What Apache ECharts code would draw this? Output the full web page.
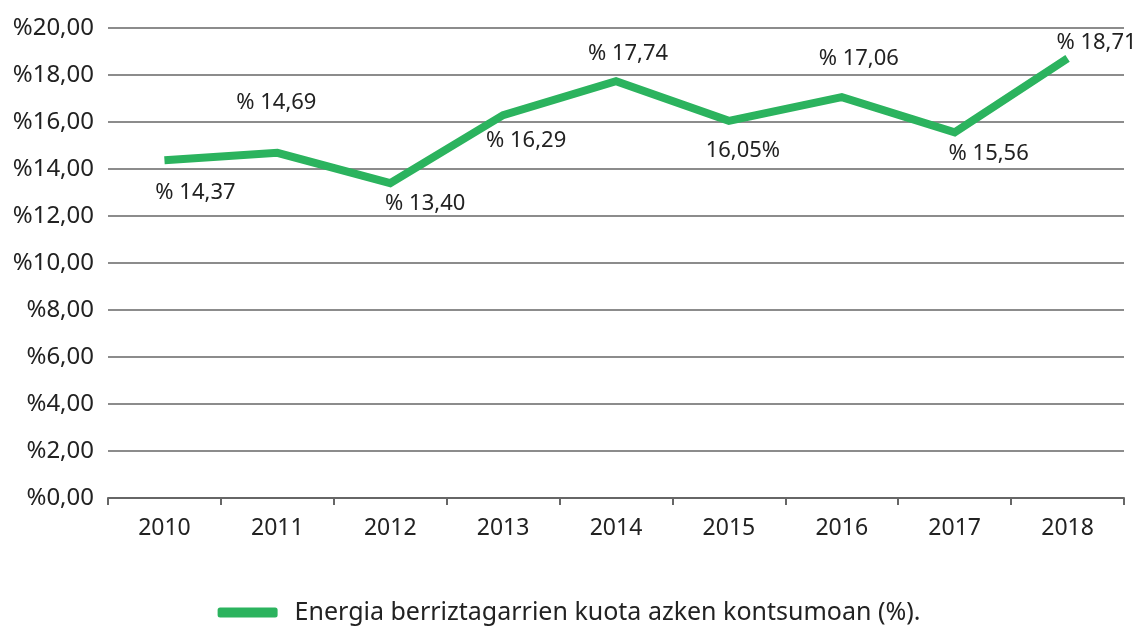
<!DOCTYPE html>
<html>
<head>
<meta charset="utf-8">
<script src="https://cdn.jsdelivr.net/npm/echarts@6/dist/echarts.min.js"></script>
<style>
  html, body { margin: 0; padding: 0; background: #fff; }
  #chart { width: 1138px; height: 628px; }
</style>
</head>
<body>
<div id="chart"></div>
<script>
// data
const years = ['2010', '2011', '2012', '2013', '2014', '2015', '2016', '2017', '2018'];
const shares = [14.37, 14.69, 13.40, 16.29, 17.74, 16.05, 17.06, 15.56, 18.71];
const pointLabels = ['% 14,37', '% 14,69', '% 13,40', '% 16,29', '% 17,74', '16,05%', '% 17,06', '% 15,56', '% 18,71'];
// where each value label sits relative to its point
const labelOffsets = [[31, 32], [-1, -50], [35, 21], [23, 26], [12, -27], [14, 30], [17, -38], [34, 21], [29, -16]];
const seriesName = 'Energia berriztagarrien kuota azken kontsumoan (%).';

const font = 'Noto Sans';
const textColor = '#222';
const green = '#2bb35e';

const chart = echarts.init(document.getElementById('chart'));

const option = {
  animation: false,
  grid: { left: 108, right: 14, top: 28, bottom: 130 },
  xAxis: {
    type: 'category',
    data: years,
    boundaryGap: true,
    axisLine: { lineStyle: { color: '#666', width: 2 } },
    axisTick: { show: true, length: 7, lineStyle: { color: '#666', width: 2 } },
    axisLabel: { color: textColor, fontSize: 23, fontFamily: font, margin: 19 }
  },
  yAxis: {
    type: 'value',
    min: 0,
    max: 20,
    interval: 2,
    axisLine: { show: false },
    axisTick: { show: false },
    splitLine: { lineStyle: { color: '#666', width: 1.5 } },
    axisLabel: {
      color: textColor, fontSize: 24, fontFamily: font, margin: 14,
      formatter: v => '%' + v.toFixed(2).replace('.', ',')
    }
  },
  legend: {
    bottom: -2,
    left: 'center',
    icon: 'roundRect',
    itemWidth: 60,
    itemHeight: 10,
    textStyle: { color: textColor, fontSize: 25, fontFamily: font, padding: [0, 0, 0, 12] },
    data: [seriesName]
  },
  series: [{
    name: seriesName,
    type: 'line',
    data: shares.map((v, i) => ({
      value: v,
      label: {
        show: true,
        position: 'inside',
        offset: labelOffsets[i],
        formatter: pointLabels[i],
        color: textColor,
        fontSize: 22,
        fontFamily: font
      }
    })),
    symbol: 'circle',
    symbolSize: 0,
    showSymbol: true,
    lineStyle: { color: green, width: 8, cap: 'butt', join: 'miter' },
    itemStyle: { color: green }
  }]
};

chart.setOption(option);
</script>
</body>
</html>
